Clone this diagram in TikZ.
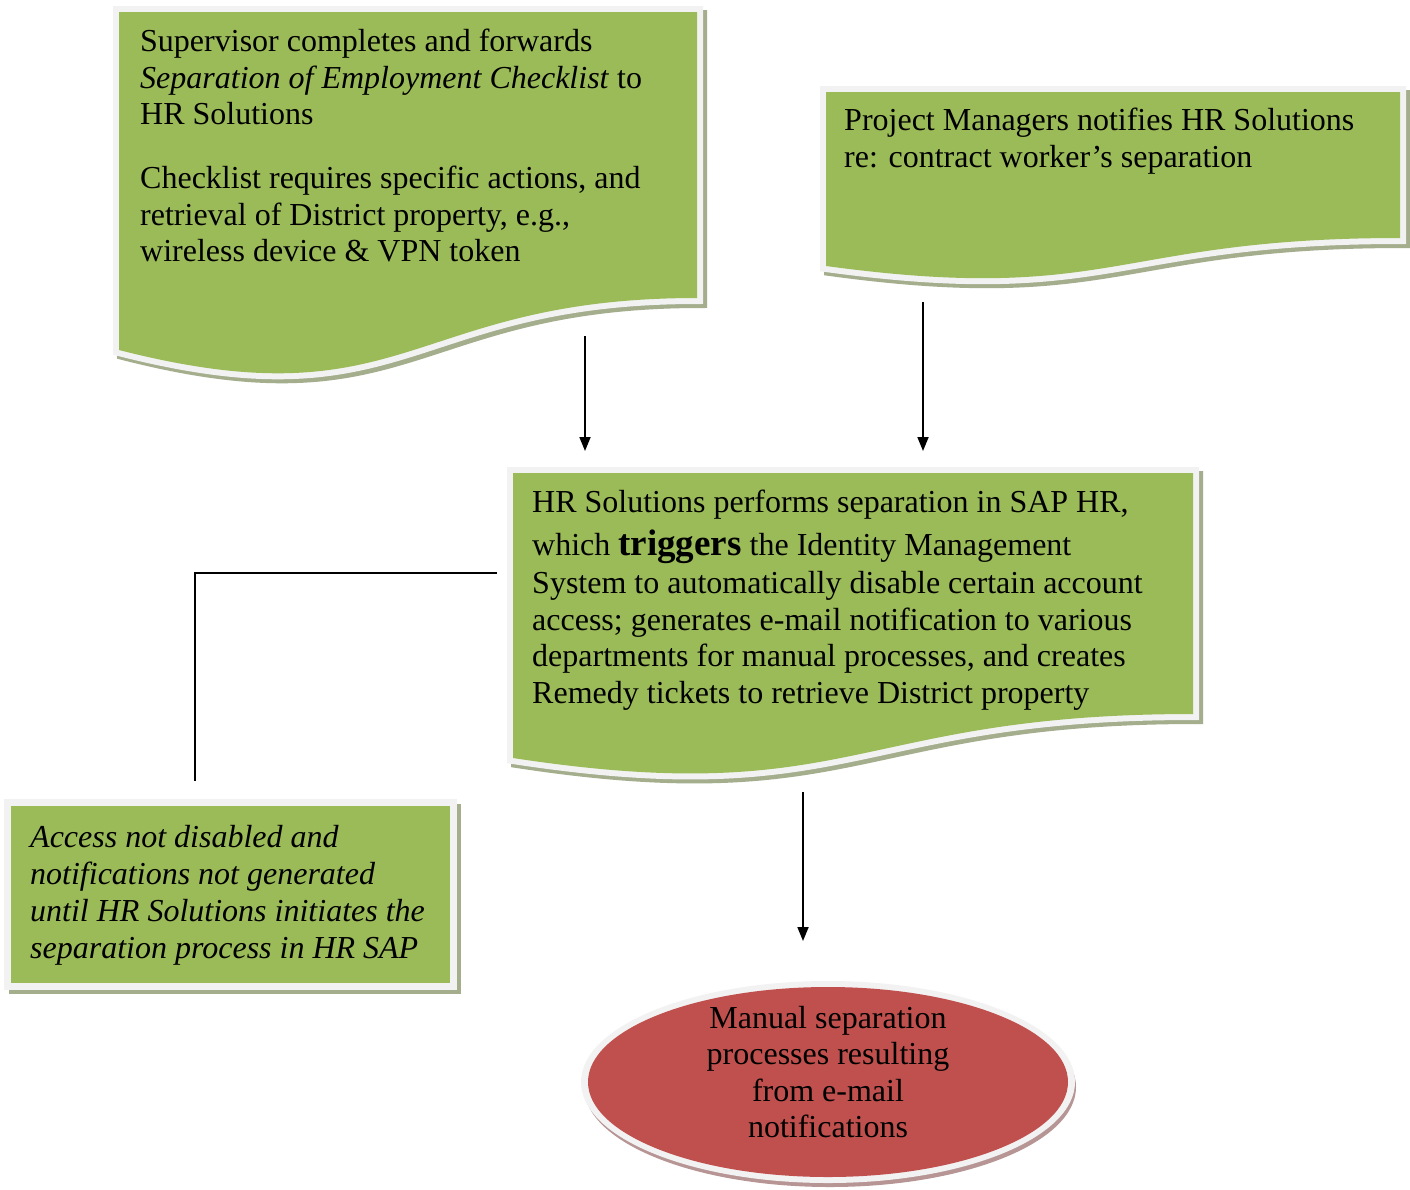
\documentclass[tikz,border=0pt]{standalone}
\usepackage{fontspec}
\setmainfont{Liberation Serif}
\usetikzlibrary{arrows.meta}
\definecolor{boxgreen}{HTML}{9BBB59}
\definecolor{ellred}{HTML}{C0504D}
\definecolor{bordc}{HTML}{F2F2F2}
\definecolor{shadg}{HTML}{A4AD8C}
\definecolor{shadr}{HTML}{B79595}
% document shape: x0, y0 (top), x1 (right), right-bottom y, left-bottom y, control y
\newcommand\docshape[6]{%
  \begin{scope}[shift={(4,4)}]
    \filldraw[fill=shadg, draw=shadg, line width=12pt]
      (#1,#2) -- (#3,#2) -- (#3,#4) .. controls ({(#1+#3)/2},#4) and ({(#1+#3)/2},#6) .. (#1,#5) -- cycle;
  \end{scope}
  \filldraw[fill=bordc, draw=bordc, line width=12pt]
    (#1,#2) -- (#3,#2) -- (#3,#4) .. controls ({(#1+#3)/2},#4) and ({(#1+#3)/2},#6) .. (#1,#5) -- cycle;
  \fill[boxgreen]
    (#1,#2) -- (#3,#2) -- (#3,#4) .. controls ({(#1+#3)/2},#4) and ({(#1+#3)/2},#6) .. (#1,#5) -- cycle;
}
\tikzset{
  txt/.style={inner sep=0pt, align=left, anchor=north west, font=\fontsize{32}{36.5}\selectfont},
  ctxt/.style={inner sep=0pt, align=center, anchor=north, font=\fontsize{32}{36.5}\selectfont},
  arr/.style={line width=1.8pt, -{Triangle[width=11pt,length=14pt]}},
  conn/.style={line width=1.8pt}
}
\begin{document}
\begin{tikzpicture}[x=1pt,y=-1pt]
\useasboundingbox[fill=white] (0,0) rectangle (1410,1189);

% Box 1
\docshape{119}{12}{697}{298}{350}{424}
% Box 2
\docshape{826}{92}{1400}{238}{266}{305}
% Box 3
\docshape{513}{473}{1193}{714}{758}{810}
% Box 4 (rectangle)
\fill[shadg] (9,804) rectangle (461,994);
\fill[bordc] (4,799) rectangle (457,990);
\fill[boxgreen] (11,806) rectangle (450,983);
% Ellipse
\fill[shadr] (830,1087) ellipse [x radius=246, y radius=100];
\fill[bordc] (828,1082) ellipse [x radius=247, y radius=101];
\fill[ellred] (828,1082) ellipse [x radius=240, y radius=95];

% Texts
\node[txt] (t1) at (140,26) {\strut Supervisor completes and forwards\\
\textit{Separation of Employment Checklist} to\\
HR Solutions\\[27.5pt]
Checklist requires specific actions, and\\
retrieval of District property, e.g.,\\
wireless device \& VPN token};

\node[txt] (t2) at (844,105) {\strut Project Managers notifies HR Solutions\\
re: contract worker’s separation};

\node[txt] (t3) at (532,487) {\strut HR Solutions performs separation in SAP HR,\\[5.5pt]
which {\fontsize{37}{36.5}\selectfont\bfseries triggers} the Identity Management\\[1.5pt]
System to automatically disable certain account\\
access; generates e-mail notification to various\\
departments for manual processes, and creates\\
Remedy tickets to retrieve District property};

\node[txt, font=\fontsize{32}{37}\selectfont\itshape] (t4) at (30,821) {\strut Access not disabled and\\
notifications not generated\\
until HR Solutions initiates the\\
separation process in HR SAP};

\node[ctxt] (t5) at (828,1002.5) {\strut Manual separation\\
processes resulting\\
from e-mail\\
notifications};

% Connectors
\coordinate (a1s) at (585,336);
\coordinate (a1e) at (585,451);
\coordinate (a2s) at (923,302);
\coordinate (a2e) at (923,451);
\coordinate (a3s) at (803,792);
\coordinate (a3e) at (803,941);
\coordinate (e1) at (497,573);
\coordinate (e2) at (195,781);
\draw[arr] (a1s) -- (a1e);
\draw[arr] (a2s) -- (a2e);
\draw[arr] (a3s) -- (a3e);
\draw[conn] (e1) -| (e2);
\end{tikzpicture}
\end{document}
